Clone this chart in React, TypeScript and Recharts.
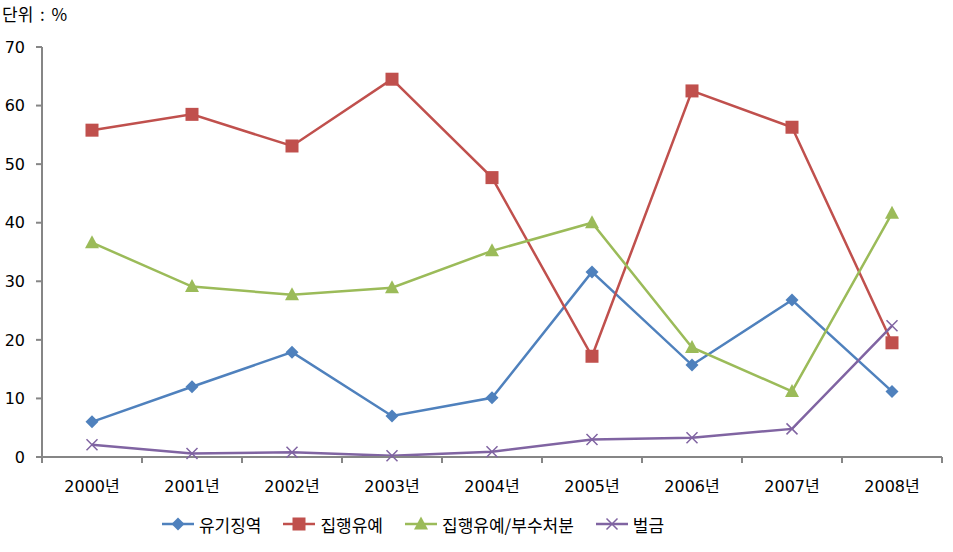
import { LineChart, Line, XAxis, YAxis, Legend } from 'recharts';

const years = ['2000년', '2001년', '2002년', '2003년', '2004년', '2005년', '2006년', '2007년', '2008년'];
const prison = [6.0, 12.0, 17.9, 7.0, 10.1, 31.6, 15.7, 26.8, 11.2];
const suspended = [55.8, 58.5, 53.1, 64.5, 47.7, 17.2, 62.5, 56.3, 19.5];
const suspendedExtra = [36.6, 29.1, 27.7, 28.9, 35.2, 40.0, 18.7, 11.2, 41.6];
const fine = [2.1, 0.6, 0.8, 0.2, 0.9, 3.0, 3.3, 4.8, 22.4];
const yTicks = [0, 10, 20, 30, 40, 50, 60, 70];

const data = years.map((y, i) => ({
  year: y,
  prison: prison[i],
  suspended: suspended[i],
  suspendedExtra: suspendedExtra[i],
  fine: fine[i],
}));

const FONT = '"DejaVu Sans", "Noto Sans CJK KR", sans-serif';
const KFONT = '"Noto Sans CJK KR", sans-serif';
const AXIS = '#868686';

const Diamond = ({ cx, cy, color }: any) => (
  <path d={`M${cx},${cy - 6.5}L${cx + 6.5},${cy}L${cx},${cy + 6.5}L${cx - 6.5},${cy}Z`} fill={color} />
);
const Square = ({ cx, cy, color }: any) => (
  <rect x={cx - 6.5} y={cy - 6.5} width={13} height={13} fill={color} />
);
const Triangle = ({ cx, cy, color }: any) => (
  <path d={`M${cx},${cy - 7.5}L${cx + 7},${cy + 5.5}L${cx - 7},${cy + 5.5}Z`} fill={color} />
);
const Cross = ({ cx, cy, color }: any) => (
  <path d={`M${cx - 5.5},${cy - 5.5}L${cx + 5.5},${cy + 5.5}M${cx + 5.5},${cy - 5.5}L${cx - 5.5},${cy + 5.5}`} stroke={color} strokeWidth={1.5} fill="none" />
);

const series = [
  { key: 'prison', name: '유기징역', color: '#4F81BD', Mark: Diamond },
  { key: 'suspended', name: '집행유예', color: '#C0504D', Mark: Square },
  { key: 'suspendedExtra', name: '집행유예/부수처분', color: '#9BBB59', Mark: Triangle },
  { key: 'fine', name: '벌금', color: '#8064A2', Mark: Cross },
];

const XTick = ({ x, y, payload, index }: any) => {
  const half = 50;
  return (
    <g>
      <line x1={x - half} y1={y - 8} x2={x - half} y2={y - 2} stroke={AXIS} strokeWidth={2} />
      {index === years.length - 1 && (
        <line x1={x + half} y1={y - 8} x2={x + half} y2={y - 2} stroke={AXIS} strokeWidth={2} />
      )}
      <text x={x} y={y + 27} textAnchor="middle" fontSize={16} fontFamily={FONT} fill="#000">
        {payload.value}
      </text>
    </g>
  );
};

const LegendContent = () => (
  <div style={{ display: 'flex', justifyContent: 'center', alignItems: 'center', gap: 22, height: 22, fontFamily: KFONT, fontSize: 17, color: '#000', paddingRight: 116 }}>
    {series.map(({ key, name, color, Mark }) => (
      <div key={key} style={{ display: 'flex', alignItems: 'center' }}>
        <svg width={32} height={16} style={{ marginRight: 5 }}>
          <line x1={0} y1={8} x2={32} y2={8} stroke={color} strokeWidth={2.5} />
          <Mark cx={16} cy={8} color={color} />
        </svg>
        <span>{name}</span>
      </div>
    ))}
  </div>
);

export default function App() {
  return (
    <div style={{ position: 'absolute', left: 0, top: 0, width: 953, height: 552, background: '#fff' }}>
      <div style={{ position: 'absolute', left: 2, top: 2, fontFamily: KFONT, fontSize: 17, color: '#000', lineHeight: '24px', wordSpacing: 3 }}>
        단위 : %
      </div>
      <LineChart width={953} height={552} data={data} margin={{ top: 47, right: 11, left: 0, bottom: 17 }}>
        <XAxis
          dataKey="year"
          padding={{ left: 50, right: 50 }}
          axisLine={{ stroke: AXIS, strokeWidth: 2 }}
          tickLine={false}
          tick={<XTick />}
          interval={0}
          height={56}
        />
        <YAxis
          domain={[0, 70]}
          ticks={yTicks}
          width={42}
          axisLine={{ stroke: AXIS, strokeWidth: 2 }}
          tickLine={{ stroke: AXIS, strokeWidth: 2 }}
          tickSize={6}
          tickMargin={11}
          tick={{ fontSize: 16, fontFamily: FONT, fill: '#000' }}
        />
        <Legend verticalAlign="bottom" height={22} content={<LegendContent />} />
        {series.map(({ key, name, color, Mark }) => (
          <Line
            key={key}
            dataKey={key}
            name={name}
            stroke={color}
            strokeWidth={2.5}
            isAnimationActive={false}
            dot={(p: any) => <Mark key={`${key}-${p.index}`} cx={p.cx} cy={p.cy} color={color} />}
            activeDot={false}
          />
        ))}
      </LineChart>
    </div>
  );
}
